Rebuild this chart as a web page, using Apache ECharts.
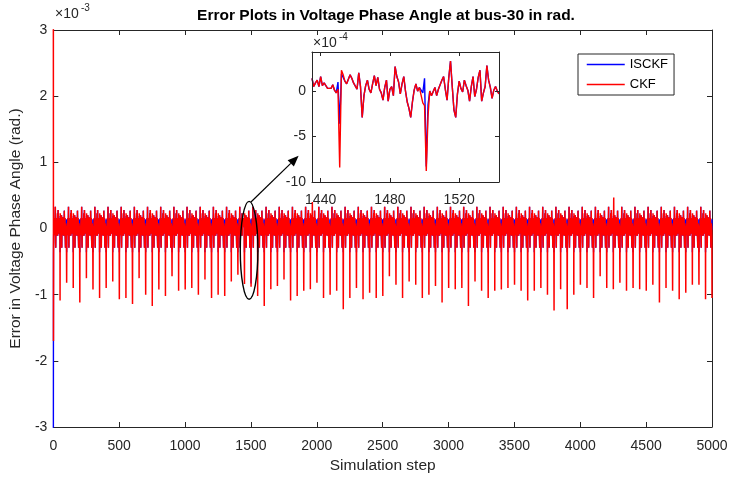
<!DOCTYPE html>
<html>
<head>
<meta charset="utf-8">
<script src="https://cdn.jsdelivr.net/npm/echarts@6.0.0/dist/echarts.min.js"></script>
<style>
  html, body { margin: 0; padding: 0; background: #fff; }
  #chart { width: 731px; height: 479px; }
</style>
</head>
<body>
<div id="chart"></div>
<script>
// main axes (error in units of 1e-3 rad)
const xTicks = [0, 500, 1000, 1500, 2000, 2500, 3000, 3500, 4000, 4500, 5000];
const yTicks = [-3, -2, -1, 0, 1, 2, 3];
// zoomed window (error in units of 1e-4 rad), steps 1435..1543
const insetFirstStep = 1435;
const insetXTicks = [1440, 1480, 1520];
const insetYTicks = [-10, -5, 0];

const ckfInset = [
  1.4, 0.5, 0.9, 1.2, 0.5, 1.6, 0.6, 0.9, 1.1, 0.3, 0.5, 0.3, 0.7, 0.1, -0.2, 0.2,
  -8.4, 2.3, 1.8, 1.1, 0.8, 0.6, 1.8, 1.4, 0.9, 0.8,
  0.2, 2.0, 0.5, -2.9, -0.5, 0.6, 1.2, 0.2, -0.2, 0.8,
  1.7, 0.6, 1.5, 0.2, -0.2, -1.0, 0.4, 1.2, -1.1, 0.2,
  0.5, -0.5, 2.7, 1.6, 1.0, -0.3, 0.8, 1.6, 0.0, -1.2,
  -1.9, -2.9, -1.2, 0.1, 0.8, 0.0, 0.4, 0.5, -1.3, -1.6,
  -8.8, -2.8, 0.0, -0.5, -0.3, 0.4, -0.5, 0.2, 0.0, 1.2,
  1.6, 0.2, -1.0, 1.5, 3.3, 0.5, -2.1, -2.9, -0.3, 1.1,
  0.3, -0.1, 1.2, 0.6, 0.1, -1.1, 0.5, 1.6, -0.6, 0.2,
  1.5, 2.3, -1.1, -0.2, 0.5, 2.8, 1.2, 0.4, -0.8, 0.1,
  0.5, 0.0, -0.3
];
const isckfInset = [
  1.4, 0.5, 0.9, 1.2, 0.5, 1.6, 0.6, 0.9, 1.1, 0.3, 0.5, 0.3, 0.7, 0.1, -0.2, 1.0,
  -3.6, 1.9, 1.8, 1.1, 0.8, 0.6, 1.8, 1.4, 0.9, 0.8,
  0.2, 2.0, 0.5, -2.9, -0.5, 0.6, 1.2, 0.2, -0.2, 0.8,
  1.7, 0.6, 1.5, 0.2, -0.2, -1.0, 0.4, 1.2, -1.1, 0.2,
  0.5, -0.5, 2.7, 1.6, 1.0, -0.3, 0.8, 1.6, 0.0, -1.2,
  -1.9, -2.9, -1.2, 0.1, 0.8, 0.0, 0.4, 0.5, -0.2, 1.4,
  -8.3, -1.5, 0.0, -0.5, -0.3, 0.4, -0.5, 0.2, 0.0, 1.2,
  1.6, 0.2, -1.0, 1.5, 3.3, 0.5, -2.1, -2.9, -0.3, 1.1,
  0.3, -0.1, 1.2, 0.6, 0.1, -1.1, 0.5, 1.6, -0.6, 0.2,
  1.5, 2.3, -1.1, -0.2, 0.5, 2.8, 1.2, 0.4, -0.8, 0.1,
  0.5, 0.0, -0.3
];

// CKF dip depth at steps 51, 101, ..., 4951 (1e-3 rad); ISCKF dips stay hidden under them
const ckfSpikeDepth = [
  -1.09, -0.82, -0.90, -1.12, -0.75, -0.92, -1.05, -0.90, -0.80, -1.07,
  -1.05, -1.14, -0.75, -1.00, -1.17, -0.92, -1.02, -0.72, -0.94, -0.92,
  -0.90, -1.00, -0.77, -1.05, -1.00, -1.02, -0.80, -0.70, -0.82, -0.87,
  -1.02, -1.17, -0.92, -0.87, -0.77, -1.09, -1.02, -0.94, -0.92, -0.82,
  -1.05, -1.00, -0.94, -1.22, -1.05, -0.90, -1.07, -0.97, -1.05, -1.02,
  -0.72, -0.85, -1.05, -0.80, -0.85, -1.05, -1.00, -0.87, -1.12, -0.90,
  -0.92, -0.90, -1.17, -0.80, -0.94, -1.05, -0.94, -0.92, -0.90, -0.85,
  -0.94, -1.09, -0.94, -0.90, -1.00, -1.24, -0.92, -1.22, -1.00, -0.85,
  -0.90, -1.05, -0.72, -0.90, -0.92, -0.82, -0.94, -0.90, -0.92, -0.94,
  -0.85, -1.12, -0.90, -0.94, -1.07, -0.97, -0.85, -0.85, -1.07
];
// first steps (initial transient) and isolated extra points (1e-3 rad)
const ckfStart = [3.6, -1.7];
const isckfStart = [-3.6, -0.4];
const ckfExtra = [[1966, 0.40], [4254, 0.47], [5000, -1.05]];
const isckfExtra = [];

// annotation placement in data coords of the main plot
const ellipseCenter = [1486, -0.33];
const ellipseHalf = [67, 0.74];
const arrowFrom = [1500, 0.40];
const arrowTo = [1862, 1.10];

function buildSeries(inset, start, extra, spikes) {
  const tplA = inset.slice(16, 66);                       // steps 1451..1500
  const tplB = inset.slice(66).concat(inset.slice(0, 7)); // steps 1501..1543 + 1435..1441
  const out = [];
  for (let s = 0; s <= 5000; s++) {
    let v;
    if (s < start.length) {
      v = start[s];
    } else if (s >= insetFirstStep && s < insetFirstStep + inset.length) {
      v = inset[s - insetFirstStep] / 10;
    } else {
      const k = Math.floor((s - 1) / 50), i = (s - 1) % 50;
      const tpl = k % 2 ? tplA : tplB;
      if (i === 0) v = spikes ? spikes[k - 1] : tplA[0] / 10;
      else v = tpl[i] / 10;
    }
    out.push([s, v]);
  }
  extra.forEach(p => { out[p[0]] = [p[0], p[1]]; });
  return out;
}

const ckfMain = buildSeries(ckfInset, ckfStart, ckfExtra, ckfSpikeDepth);
const isckfMain = buildSeries(isckfInset, isckfStart, isckfExtra, null);
const ckfZoom = ckfInset.map((v, i) => [insetFirstStep + i, v]);
const isckfZoom = isckfInset.map((v, i) => [insetFirstStep + i, v]);

const font = '"Liberation Sans", Arial, sans-serif';
const axisColor = '#262626';
const lineCol = { color: axisColor, width: 1 };
const plain = v => String(v);

const myChart = echarts.init(document.getElementById('chart'));

const option = {
  animation: false,
  textStyle: { fontFamily: font },
  legend: {
    data: ['ISCKF', 'CKF'],
    orient: 'vertical',
    left: 578,
    top: 54,
    padding: [4, 6, 4, 8],
    itemGap: 7,
    itemWidth: 38,
    itemHeight: 14,
    borderColor: axisColor,
    borderWidth: 1,
    backgroundColor: '#fff',
    itemStyle: { color: 'transparent', borderColor: 'transparent', borderWidth: 0, opacity: 0 },
    lineStyle: { width: 1.5 },
    textStyle: { fontSize: 13, color: '#000', fontFamily: font }
  },
  grid: [
    { left: 53, right: 19, top: 30, bottom: 49 },
    { left: 312, top: 52, width: 187, height: 130, show: true, backgroundColor: '#fff', borderWidth: 0 }
  ],
  xAxis: [
    {
      gridIndex: 0, type: 'value', position: 'bottom',
      min: xTicks[0], max: xTicks[xTicks.length - 1], interval: xTicks[1] - xTicks[0],
      axisLine: { onZero: false, lineStyle: lineCol },
      axisTick: { inside: true, length: 5, lineStyle: lineCol },
      axisLabel: { fontSize: 14, color: axisColor, margin: 12, fontFamily: font, formatter: plain },
      splitLine: { show: false },
      name: 'Simulation step', nameLocation: 'middle', nameGap: 31,
      nameTextStyle: { fontSize: 15.5, color: axisColor, fontFamily: font }
    },
    {
      gridIndex: 0, type: 'value', position: 'top',
      min: xTicks[0], max: xTicks[xTicks.length - 1], interval: xTicks[1] - xTicks[0],
      axisLine: { onZero: false, lineStyle: lineCol },
      axisTick: { inside: true, length: 5, lineStyle: lineCol },
      axisLabel: { show: false },
      splitLine: { show: false }
    },
    {
      gridIndex: 1, type: 'value', position: 'bottom', z: 5,
      min: insetFirstStep, max: insetFirstStep + ckfInset.length - 1,
      axisLine: { onZero: false, lineStyle: lineCol },
      axisTick: { inside: true, length: 4, lineStyle: lineCol, customValues: insetXTicks },
      axisLabel: { fontSize: 14, color: axisColor, margin: 11, fontFamily: font, formatter: plain, customValues: insetXTicks },
      splitLine: { show: false }
    },
    {
      gridIndex: 1, type: 'value', position: 'top', z: 5,
      min: insetFirstStep, max: insetFirstStep + ckfInset.length - 1,
      axisLine: { onZero: false, lineStyle: lineCol },
      axisTick: { inside: true, length: 4, lineStyle: lineCol, customValues: insetXTicks },
      axisLabel: { show: false },
      splitLine: { show: false }
    }
  ],
  yAxis: [
    {
      gridIndex: 0, type: 'value', position: 'left',
      min: yTicks[0], max: yTicks[yTicks.length - 1], interval: 1,
      axisLine: { show: true, onZero: false, lineStyle: lineCol },
      axisTick: { show: true, inside: true, length: 5, lineStyle: lineCol },
      axisLabel: { fontSize: 14, color: axisColor, margin: 6, fontFamily: font },
      splitLine: { show: false },
      name: 'Error in Voltage Phase Angle (rad.)', nameLocation: 'middle', nameGap: 22,
      nameTextStyle: { fontSize: 15.5, color: axisColor, fontFamily: font }
    },
    {
      gridIndex: 0, type: 'value', position: 'right',
      min: yTicks[0], max: yTicks[yTicks.length - 1], interval: 1,
      axisLine: { show: true, onZero: false, lineStyle: lineCol },
      axisTick: { show: true, inside: true, length: 5, lineStyle: lineCol },
      axisLabel: { show: false },
      splitLine: { show: false }
    },
    {
      gridIndex: 1, type: 'value', position: 'left', z: 5,
      min: -10, max: 4.3,
      axisLine: { show: true, onZero: false, lineStyle: lineCol },
      axisTick: { show: true, inside: true, length: 4, lineStyle: lineCol, customValues: insetYTicks },
      axisLabel: { fontSize: 14, color: axisColor, margin: 6, fontFamily: font, customValues: insetYTicks },
      splitLine: { show: false }
    },
    {
      gridIndex: 1, type: 'value', position: 'right', z: 5,
      min: -10, max: 4.3,
      axisLine: { show: true, onZero: false, lineStyle: lineCol },
      axisTick: { show: true, inside: true, length: 4, lineStyle: lineCol, customValues: insetYTicks },
      axisLabel: { show: false },
      splitLine: { show: false }
    }
  ],
  series: [
    {
      name: 'ISCKF', type: 'line', xAxisIndex: 0, yAxisIndex: 0, z: 1,
      data: isckfMain, symbol: 'none', showSymbol: false,
      lineStyle: { width: 1.4, color: '#0000ff' }, itemStyle: { color: '#0000ff' }
    },
    {
      name: 'CKF', type: 'line', xAxisIndex: 0, yAxisIndex: 0, z: 1,
      data: ckfMain, symbol: 'none', showSymbol: false,
      lineStyle: { width: 1.5, color: '#ff0000' }, itemStyle: { color: '#ff0000' }
    },
    {
      name: 'ISCKF', type: 'line', xAxisIndex: 2, yAxisIndex: 2, z: 4,
      data: isckfZoom, symbol: 'none', showSymbol: false,
      lineStyle: { width: 1.4, color: '#0000ff' }, itemStyle: { color: '#0000ff' }
    },
    {
      name: 'CKF', type: 'line', xAxisIndex: 2, yAxisIndex: 2, z: 4,
      data: ckfZoom, symbol: 'none', showSymbol: false,
      lineStyle: { width: 1.4, color: '#ff0000' }, itemStyle: { color: '#ff0000' }
    }
  ]
};
myChart.setOption(option);

// title, exponent labels, ellipse and arrow
const toPx = p => myChart.convertToPixel({ gridIndex: 0 }, p);
const c = toPx(ellipseCenter);
const corner = toPx([ellipseCenter[0] + ellipseHalf[0], ellipseCenter[1] + ellipseHalf[1]]);
const a0 = toPx(arrowFrom);
const a1 = toPx(arrowTo);
const ang = Math.atan2(a1[1] - a0[1], a1[0] - a0[0]);
const headLen = 11, headW = 4.5;
const base = [a1[0] - headLen * Math.cos(ang), a1[1] - headLen * Math.sin(ang)];
const nx = -Math.sin(ang), ny = Math.cos(ang);

myChart.setOption({
  graphic: [
    {
      type: 'text', x: 386, y: 16, z: 10,
      style: {
        text: 'Error Plots in Voltage Phase Angle at bus-30 in rad.',
        font: 'bold 15.5px ' + font, fill: '#000', align: 'center', verticalAlign: 'middle'
      }
    },
    { type: 'text', x: 55, y: 14, z: 10, style: { text: '×10', font: '14px ' + font, fill: axisColor, verticalAlign: 'middle' } },
    { type: 'text', x: 81, y: 8, z: 10, style: { text: '-3', font: '10px ' + font, fill: axisColor, verticalAlign: 'middle' } },
    { type: 'text', x: 313, y: 43, z: 10, style: { text: '×10', font: '14px ' + font, fill: axisColor, verticalAlign: 'middle' } },
    { type: 'text', x: 339, y: 37, z: 10, style: { text: '-4', font: '10px ' + font, fill: axisColor, verticalAlign: 'middle' } },
    {
      type: 'ellipse', z: 10,
      shape: { cx: c[0], cy: c[1], rx: corner[0] - c[0], ry: c[1] - corner[1] },
      style: { fill: 'none', stroke: '#000', lineWidth: 1.4 }
    },
    {
      type: 'line', z: 10,
      shape: { x1: a0[0], y1: a0[1], x2: base[0], y2: base[1] },
      style: { stroke: '#000', lineWidth: 1.2 }
    },
    {
      type: 'polygon', z: 10,
      shape: { points: [a1, [base[0] + nx * headW, base[1] + ny * headW], [base[0] - nx * headW, base[1] - ny * headW]] },
      style: { fill: '#000' }
    }
  ]
});
</script>
</body>
</html>
